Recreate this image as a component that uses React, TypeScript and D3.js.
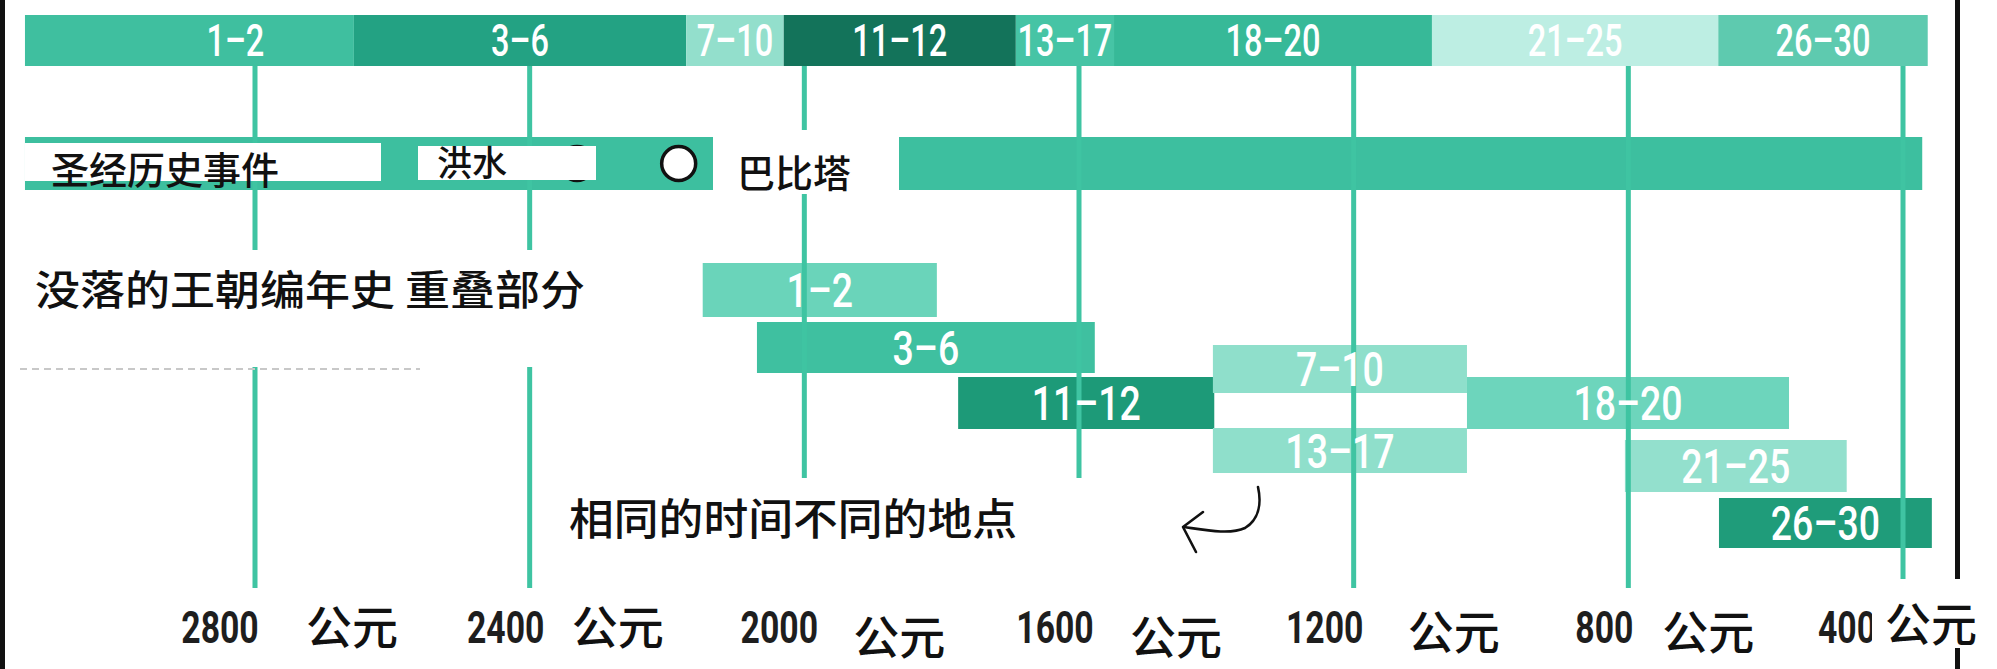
import React from 'react';
import * as d3 from 'd3';

// top band: conventional dynasty chronology (years BC)
const topLabels = ['1–2', '3–6', '7–10', '11–12', '13–17', '18–20', '21–25', '26–30'];
const topStart = [3135, 2656, 2172, 2030, 1692, 1549, 1086, 669];
const topEnd = [2656, 2172, 2030, 1692, 1549, 1086, 669, 364];
const topColors = ['#3fbf9f', '#23a283', '#93dfcc', '#13735a', '#46c4a5', '#37b998', '#bdeee3', '#5ecaaf'];

// biblical events band
const bibleSpan = [3135, 372];
const eventNames = ['洪水', '巴比塔'];
const eventYears = [2331, 2183];

// lower bars: revised, overlapping chronology
const lowLabels = ['1–2', '3–6', '11–12', '7–10', '18–20', '13–17', '21–25', '26–30'];
const lowStart = [2148, 2069, 1776, 1405, 1035, 1405, 805, 668];
const lowEnd = [1807, 1577, 1403, 1035, 566, 1035, 482, 358];
const lowColors = ['#6ad4ba', '#3fc0a0', '#1d9a78', '#8fdfcb', '#6dd5bc', '#8fdfcb', '#93e0cd', '#1f9c7a'];

// axis
const tickYears = [2800, 2400, 2000, 1600, 1200, 800, 400];
const eraLabel = '公元';

// layout (pixels)
const lowY = [263, 322, 377, 345, 377, 428, 440, 498];
const lowH = [54, 51, 52, 48, 52, 45, 52, 50];
const topLabelDx = [46, 0, 0, 0, 0, 0, 0, 0];
const tickDx = [-35, -24, -25, -24, -29, -24, -56];
const eraDx = [51, 42, 49, 51, 54, 34, -18];
const eraBase = [644, 644, 654, 654, 649, 649, 641];

const cjk = '"Noto Sans CJK SC", "Noto Sans", sans-serif';
const cond = 'Roboto, "Liberation Sans", sans-serif';
const lineColor = '#3fc4a2';

const notes = [
  { text: '圣经历史事件', x: 25, y: 143, w: 356, h: 38, tx: 51, ty: 184, fs: 38 },
  { text: eventNames[0], x: 418, y: 146, w: 178, h: 34, tx: 437, ty: 176, fs: 35 },
  { text: eventNames[1], x: 713, y: 130, w: 186, h: 64, tx: 737, ty: 187, fs: 38 },
  { text: '没落的王朝编年史 重叠部分', x: 8, y: 250, w: 642, h: 117, tx: 35, ty: 305, fs: 41, len: 550 },
  { text: '相同的时间不同的地点', x: 538, y: 478, w: 732, h: 117, tx: 569, ty: 535, fs: 43, len: 448 },
];

const CondText = ({ x, y, fs, sx, fill, weight, children }: any) => (
  <text
    transform={`translate(${x},${y}) scale(${sx},1)`}
    textAnchor="middle"
    fontFamily={cond}
    fontWeight={weight || 'bold'}
    fontSize={fs}
    fill={fill}
  >
    {children}
  </text>
);

export default function App() {
  const width = 1997;
  const height = 669;
  const x = d3.scaleLinear().domain([2800, 400]).range([255, 1903]);

  const topY = 15;
  const topH = 51;
  const bibleY = 137;
  const bibleH = 53;
  const lineTop = topY + topH;
  const lineBottom = 588;

  return (
    <svg
      width={width}
      height={height}
      style={{ position: 'absolute', left: 0, top: 0, background: '#fff' }}
    >
      <rect width={width} height={height} fill="#fff" />

      {/* top band */}
      {topLabels.map((d, i) => (
        <rect
          key={'t' + i}
          x={x(topStart[i])}
          y={topY}
          width={x(topEnd[i]) - x(topStart[i])}
          height={topH}
          fill={topColors[i]}
        />
      ))}

      {/* biblical band */}
      <rect
        x={x(bibleSpan[0])}
        y={bibleY}
        width={x(bibleSpan[1]) - x(bibleSpan[0])}
        height={bibleH}
        fill="#3dbf9f"
      />

      {/* lower bars */}
      {lowLabels.map((d, i) => (
        <rect
          key={'l' + i}
          x={x(lowStart[i])}
          y={lowY[i]}
          width={x(lowEnd[i]) - x(lowStart[i])}
          height={lowH[i]}
          fill={lowColors[i]}
        />
      ))}

      {/* grid lines */}
      {tickYears.map((t) => (
        <line
          key={'g' + t}
          x1={x(t)}
          x2={x(t)}
          y1={lineTop}
          y2={lineBottom}
          stroke={lineColor}
          strokeWidth={5}
        />
      ))}

      {/* event markers */}
      {eventYears.map((t, i) => (
        <circle
          key={'e' + i}
          cx={x(t)}
          cy={bibleY + bibleH / 2}
          r={17}
          fill="#fff"
          stroke="#111"
          strokeWidth={3.5}
        />
      ))}

      {/* bar labels */}
      {topLabels.map((d, i) => (
        <CondText
          key={'tl' + i}
          x={(x(topStart[i]) + x(topEnd[i])) / 2 + topLabelDx[i]}
          y={topY + topH / 2 + 0.355 * 44}
          fs={44}
          sx={0.74}
          weight={500}
          fill="#fff"
        >
          {d}
        </CondText>
      ))}
      {lowLabels.map((d, i) => (
        <CondText
          key={'ll' + i}
          x={(x(lowStart[i]) + x(lowEnd[i])) / 2}
          y={lowY[i] + lowH[i] / 2 + 0.355 * 48}
          fs={48}
          sx={0.78}
          weight={500}
          fill="#fff"
        >
          {d}
        </CondText>
      ))}

      {/* faint ghost line under the heading patch */}
      <line x1={20} x2={420} y1={369} y2={369} stroke="#c8c8c8" strokeWidth={2} strokeDasharray="7 5" />

      {/* annotation patches */}
      {notes.map((n, i) => (
        <g key={'n' + i}>
          <rect x={n.x} y={n.y} width={n.w} height={n.h} fill="#fff" />
          <text
            x={n.tx}
            y={n.ty}
            fontFamily={cjk}
            fontWeight={500}
            fontSize={n.fs}
            fill="#111"
            textLength={n.len}
            lengthAdjust={n.len ? 'spacingAndGlyphs' : undefined}
          >
            {n.text}
          </text>
        </g>
      ))}

      {/* curved arrow */}
      <path
        d="M1258,487 C1262,505 1258,520 1245,528 C1230,535 1205,530 1184,527"
        fill="none"
        stroke="#111"
        strokeWidth={2.6}
        strokeLinecap="round"
      />
      <path d="M1203,512 L1183,527 L1196,552" fill="none" stroke="#111" strokeWidth={2.6} strokeLinecap="round" strokeLinejoin="round" />

      {/* frame */}
      <rect x={0} y={0} width={5} height={height} fill="#111" />
      <rect x={1955} y={0} width={5} height={height} fill="#111" />

      {/* axis labels */}
      {tickYears.map((t, i) => (
        <CondText key={'a' + t} x={x(t) + tickDx[i]} y={643} fs={45} sx={0.75} fill="#1e1e1e">
          {t}
        </CondText>
      ))}
      {tickYears.map((t, i) => (
        <g key={'era' + t}>
          <rect x={x(t) + eraDx[i] - 13} y={eraBase[i] - 62} width={124} height={69} fill="#fff" />
          <text x={x(t) + eraDx[i]} y={eraBase[i]} fontFamily={cjk} fontWeight={500} fontSize={46} fill="#111">
            {eraLabel}
          </text>
        </g>
      ))}
    </svg>
  );
}
